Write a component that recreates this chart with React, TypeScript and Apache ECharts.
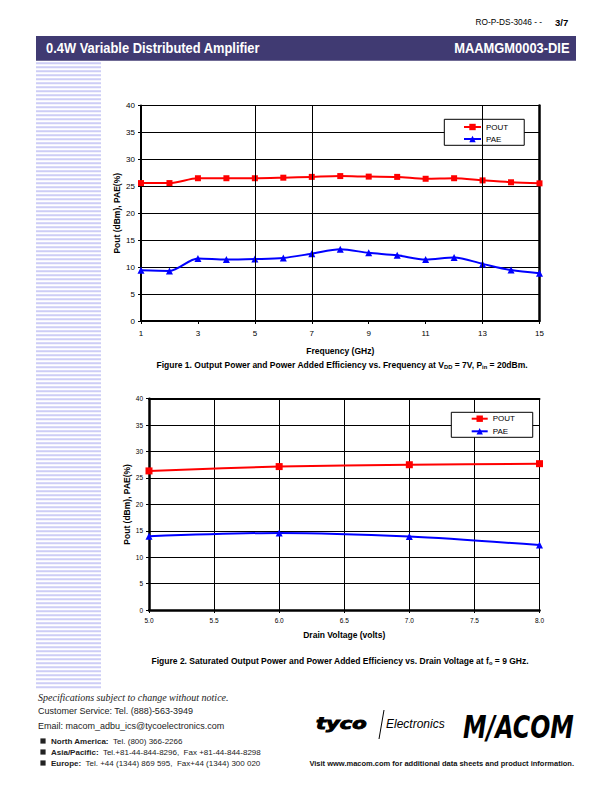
import React, { useEffect, useRef } from "react";
import * as echarts from "echarts";

const FONT = "'Liberation Sans', Arial, sans-serif";

// ---------- Figure 1 data ----------
const freqGHz = [1, 2, 3, 4, 5, 6, 7, 8, 9, 10, 11, 12, 13, 14, 15];
const fig1Pout = [25.6, 25.6, 26.5, 26.5, 26.5, 26.6, 26.75, 26.9, 26.8, 26.75, 26.4, 26.5, 26.1, 25.75, 25.55];
const fig1Pae = [9.4, 9.3, 11.6, 11.4, 11.5, 11.7, 12.5, 13.3, 12.65, 12.2, 11.4, 11.8, 10.6, 9.45, 8.85];
const fig1XTicks = [1, 3, 5, 7, 9, 11, 13, 15];
const fig1XGrid = [5, 7, 13];

// ---------- Figure 2 data ----------
const drainV = [5, 6, 7, 8];
const fig2Pout = [26.33, 27.15, 27.5, 27.7];
const fig2Pae = [13.95, 14.6, 13.9, 12.3];

const seriesNames = ["POUT", "PAE"];

const RED = "#FF0000";
const BLUE = "#0000FF";
const BLACK = "#000000";

function buildGraphics() {
  const els: any[] = [];
  // left decorative stripes
  for (let y = 62.3; y < 690; y += 4) {
    els.push({ type: "rect", silent: true, shape: { x: 36, y, width: 65, height: 2 }, style: { fill: "#CDCDF6" } });
  }
  // header
  els.push({ type: "text", x: 542, y: 22, style: { text: "RO-P-DS-3046 - -", fontSize: 8.3, fontFamily: FONT, fill: "#000", textAlign: "right", textVerticalAlign: "middle" } });
  els.push({ type: "text", x: 555, y: 22, style: { text: "3/7", fontSize: 9.5, fontWeight: "bold", fontFamily: FONT, fill: "#000", textAlign: "left", textVerticalAlign: "middle" } });
  els.push({ type: "rect", silent: true, shape: { x: 36, y: 36, width: 540, height: 24.7 }, style: { fill: "#403A72" } });
  els.push({ type: "text", x: 46, y: 47.5, scaleX: 0.86, style: { text: "0.4W Variable Distributed Amplifier", fontSize: 15, fontWeight: "bold", fontFamily: FONT, fill: "#fff", textAlign: "left", textVerticalAlign: "middle" } });
  els.push({ type: "text", x: 569.5, y: 47.5, scaleX: 0.86, style: { text: "MAAMGM0003-DIE", fontSize: 15, fontWeight: "bold", fontFamily: FONT, fill: "#fff", textAlign: "right", textVerticalAlign: "middle" } });

  // captions
  const capRich = {
    m: { fontSize: 8.5, fontWeight: "bold", fontFamily: FONT, fill: "#000", lineHeight: 10 },
    s: { fontSize: 5.8, fontWeight: "bold", fontFamily: FONT, fill: "#000", lineHeight: 10, verticalAlign: "bottom" },
  };
  els.push({ type: "text", x: 342, y: 365.3, style: { text: "{m|Figure 1. Output Power and Power Added Efficiency vs. Frequency at V}{s|DD}{m| = 7V, P}{s|in}{m| = 20dBm.}", rich: capRich, textAlign: "center", textVerticalAlign: "middle" } });
  els.push({ type: "text", x: 340, y: 661.3, style: { text: "{m|Figure 2. Saturated Output Power and Power Added Efficiency vs. Drain Voltage at f}{s|o}{m| = 9 GHz.}", rich: capRich, textAlign: "center", textVerticalAlign: "middle" } });

  // footer
  els.push({ type: "text", x: 38, y: 697.7, style: { text: "Specifications subject to change without notice.", fontSize: 10, fontStyle: "italic", fontFamily: "'Liberation Serif', 'DejaVu Serif', serif", fill: "#222", textAlign: "left", textVerticalAlign: "middle" } });
  els.push({ type: "text", x: 38, y: 711, style: { text: "Customer Service: Tel. (888)-563-3949", fontSize: 9, fontFamily: FONT, fill: "#222", textAlign: "left", textVerticalAlign: "middle" } });
  els.push({ type: "text", x: 38, y: 726, style: { text: "Email: macom_adbu_ics@tycoelectronics.com", fontSize: 9, fontFamily: FONT, fill: "#222", textAlign: "left", textVerticalAlign: "middle" } });
  const bulletRich = {
    b: { fontSize: 8, fontWeight: "bold", fontFamily: FONT, fill: "#222" },
    r: { fontSize: 8, fontFamily: FONT, fill: "#222" },
  };
  const bullets: [string, string, number][] = [
    ["North America:", "  Tel. (800) 366-2266", 741],
    ["Asia/Pacific:", "  Tel.+81-44-844-8296,  Fax +81-44-844-8298", 752],
    ["Europe:", "  Tel. +44 (1344) 869 595,  Fax+44 (1344) 300 020", 763],
  ];
  bullets.forEach(([b, r, y]) => {
    els.push({ type: "rect", silent: true, shape: { x: 40.4, y: y - 2.6, width: 5.2, height: 5.2 }, style: { fill: "#222" } });
    els.push({ type: "text", x: 51, y, style: { text: `{b|${b}}{r|${r}}`, rich: bulletRich, textAlign: "left", textVerticalAlign: "middle" } });
  });
  els.push({ type: "text", x: 574, y: 763, style: { text: "Visit www.macom.com for additional data sheets and product information.", fontSize: 7.5, fontWeight: "bold", fontFamily: FONT, fill: "#111", textAlign: "right", textVerticalAlign: "middle" } });

  // logos
  els.push({ type: "text", x: 316, y: 724, scaleX: 1.4, style: { text: "tyco", fontSize: 15, fontWeight: 900, fontStyle: "italic", fontFamily: "'DejaVu Sans', sans-serif", fill: "#000", stroke: "#000", lineWidth: 0.9, textAlign: "left", textVerticalAlign: "middle" } });
  els.push({ type: "line", silent: true, shape: { x1: 384, y1: 710, x2: 379, y2: 739 }, style: { stroke: "#000", lineWidth: 1 } });
  els.push({ type: "text", x: 386, y: 724, style: { text: "Electronics", fontSize: 12, fontStyle: "italic", fontFamily: FONT, fill: "#000", textAlign: "left", textVerticalAlign: "middle" } });
  els.push({ type: "text", x: 463, y: 727.5, scaleX: 0.74, style: { text: "M/ACOM", fontSize: 32, fontWeight: 900, fontStyle: "italic", fontFamily: "'DejaVu Sans', sans-serif", fill: "#000", textAlign: "left", textVerticalAlign: "middle" } });
  return els;
}

function buildOption(): any {
  const axisNameStyle = { fontSize: 8.5, fontWeight: "bold", color: BLACK, fontFamily: FONT };
  const blackLine = (w: number) => ({ show: true, onZero: false, lineStyle: { color: BLACK, width: w } });
  return {
    animation: false,
    backgroundColor: "#ffffff",
    textStyle: { fontFamily: FONT },
    grid: [
      { left: 141, top: 105.5, width: 398.5, height: 215.5 },
      { left: 149, top: 398.7, width: 390.5, height: 211.3 },
    ],
    legend: [
      {
        data: seriesNames, orient: "vertical", left: 444.3, top: 119.3,
        backgroundColor: "#fff", borderColor: BLACK, borderWidth: 1, borderRadius: 0,
        padding: [3.7, 16, 2.3, 18.7], itemWidth: 17, itemHeight: 8, itemGap: 4,
        selectedMode: false, textStyle: { fontSize: 8, color: BLACK, fontFamily: FONT },
      },
      {
        data: seriesNames, orient: "vertical", left: 451.3, top: 412.3,
        backgroundColor: "#fff", borderColor: BLACK, borderWidth: 1, borderRadius: 0,
        padding: [2.4, 17.8, 2, 19.4], itemWidth: 16, itemHeight: 8, itemGap: 4.6,
        selectedMode: false, textStyle: { fontSize: 8, color: BLACK, fontFamily: FONT },
      },
    ],
    xAxis: [
      {
        gridIndex: 0, type: "value", min: 1, max: 15, interval: 1,
        axisLine: blackLine(2),
        axisTick: { show: true, length: 3, customValues: fig1XTicks, lineStyle: { color: BLACK } },
        axisLabel: { customValues: fig1XTicks, fontSize: 8, color: BLACK, margin: 8, fontFamily: FONT },
        splitLine: { show: false },
        name: "Frequency (GHz)", nameLocation: "middle", nameGap: 25, nameMoveOverlap: false, nameTextStyle: axisNameStyle,
      },
      {
        gridIndex: 1, type: "value", min: 5, max: 8, interval: 0.5,
        axisLine: blackLine(2.5),
        axisTick: { show: true, length: 3, lineStyle: { color: BLACK } },
        axisLabel: { fontSize: 6.5, color: BLACK, margin: 7, fontFamily: FONT, formatter: (v: number) => v.toFixed(1) },
        splitLine: { show: true, lineStyle: { color: BLACK, width: 1 } },
        name: "Drain Voltage (volts)", nameLocation: "middle", nameGap: 20.5, nameMoveOverlap: false, nameTextStyle: axisNameStyle,
      },
      {
        gridIndex: 1, type: "value", position: "top", min: 5, max: 8,
        axisLine: blackLine(2), axisTick: { show: false }, axisLabel: { show: false }, splitLine: { show: false },
      },
    ],
    yAxis: [
      {
        gridIndex: 0, type: "value", min: 0, max: 40, interval: 5,
        axisLine: blackLine(2),
        axisTick: { show: true, length: 3, lineStyle: { color: BLACK } },
        axisLabel: { fontSize: 8, color: BLACK, margin: 6, fontFamily: FONT },
        splitLine: { show: true, lineStyle: { color: BLACK, width: 1 } },
        name: "Pout (dBm), PAE(%)", nameLocation: "middle", nameGap: 19.5, nameRotate: 90, nameMoveOverlap: false, nameTextStyle: axisNameStyle,
      },
      {
        gridIndex: 0, type: "value", position: "right", min: 0, max: 40,
        axisLine: blackLine(2.5), axisTick: { show: false }, axisLabel: { show: false }, splitLine: { show: false },
      },
      {
        gridIndex: 1, type: "value", min: 0, max: 40, interval: 5,
        axisLine: blackLine(2.5),
        axisTick: { show: true, length: 3, lineStyle: { color: BLACK } },
        axisLabel: { fontSize: 6.5, color: BLACK, margin: 6, fontFamily: FONT },
        splitLine: { show: true, lineStyle: { color: BLACK, width: 1 } },
        name: "Pout (dBm), PAE(%)", nameLocation: "middle", nameGap: 18, nameRotate: 90, nameMoveOverlap: false, nameTextStyle: axisNameStyle,
      },
    ],
    series: [
      {
        type: "line", xAxisIndex: 0, yAxisIndex: 0, data: [], silent: true, z: 1,
        markLine: {
          silent: true, symbol: ["none", "none"], label: { show: false },
          lineStyle: { color: BLACK, width: 1, type: "solid" },
          data: fig1XGrid.map((v) => ({ xAxis: v })),
        },
      },
      {
        name: "POUT", type: "line", xAxisIndex: 0, yAxisIndex: 0, z: 3,
        data: freqGHz.map((x, i) => [x, fig1Pout[i]]),
        symbol: "rect", symbolSize: 6, smooth: 0.3,
        lineStyle: { color: RED, width: 2 }, itemStyle: { color: RED },
      },
      {
        name: "PAE", type: "line", xAxisIndex: 0, yAxisIndex: 0, z: 3,
        data: freqGHz.map((x, i) => [x, fig1Pae[i]]),
        symbol: "triangle", symbolSize: 7, smooth: 0.3,
        lineStyle: { color: BLUE, width: 2 }, itemStyle: { color: BLUE },
      },
      {
        name: "POUT", type: "line", xAxisIndex: 1, yAxisIndex: 2, z: 3,
        data: drainV.map((x, i) => [x, fig2Pout[i]]),
        symbol: "rect", symbolSize: 7, smooth: 0.3,
        lineStyle: { color: RED, width: 2 }, itemStyle: { color: RED },
      },
      {
        name: "PAE", type: "line", xAxisIndex: 1, yAxisIndex: 2, z: 3,
        data: drainV.map((x, i) => [x, fig2Pae[i]]),
        symbol: "triangle", symbolSize: 7, smooth: 0.3,
        lineStyle: { color: BLUE, width: 2 }, itemStyle: { color: BLUE },
      },
    ],
    graphic: { elements: buildGraphics() },
  };
}

export default function App() {
  const ref = useRef<HTMLDivElement>(null);
  useEffect(() => {
    if (!ref.current) return;
    const chart = echarts.init(ref.current, null, { renderer: "svg", width: 612, height: 792 });
    chart.setOption(buildOption());
    return () => chart.dispose();
  }, []);
  return (
    <div
      ref={ref}
      style={{ position: "absolute", left: 0, top: 0, width: 612, height: 792, background: "#fff" }}
    />
  );
}
